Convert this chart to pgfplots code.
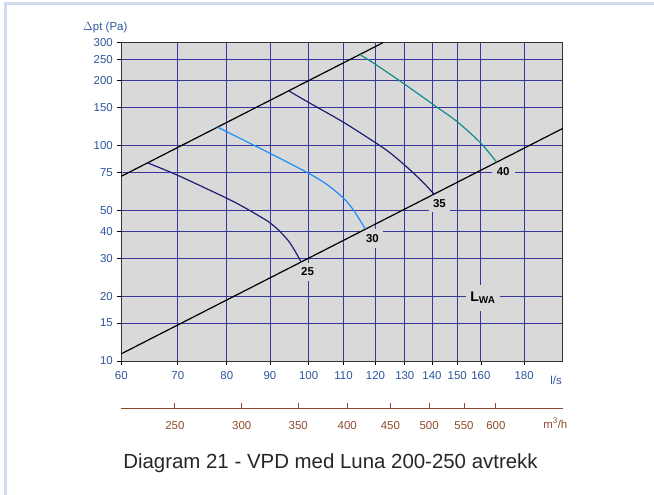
\documentclass[border=0pt]{standalone}
\usepackage{pgfplots}
\pgfplotsset{compat=1.18}
\usepackage{fontspec}
\setmainfont{Liberation Sans}
\definecolor{gridc}{RGB}{55,55,155}
\definecolor{tickc}{RGB}{45,85,155}
\definecolor{brn}{RGB}{140,75,45}
\definecolor{bgc}{RGB}{217,217,217}
\definecolor{c25}{RGB}{30,30,120}
\definecolor{c30}{RGB}{30,140,255}
\definecolor{c40}{RGB}{20,140,140}
\definecolor{framec}{RGB}{211,220,238}
\begin{document}
\begin{tikzpicture}
\path[use as bounding box] (-121.3bp,-134bp) rectangle (532.7bp,361bp);
\draw[framec, line width=2.6bp] (-116bp,-134bp) -- (-116bp,357.5bp) -- (532.7bp,357.5bp);
\begin{axis}[
  at={(0bp,0bp)}, anchor=south west,
  scale only axis, width=441.4bp, height=318.3bp,
  xmode=log, ymode=log,
  xmin=60, xmax=200, ymin=10, ymax=300,
  xtick={60,70,80,90,100,110,120,130,140,150,160,180},
  xticklabels={60,70,80,90,100,110,120,130,140,150,160,180},
  ytick={10,15,20,30,40,50,75,100,150,200,250,300},
  yticklabels={10,15,20,30,40,50,75,100,150,200,250,300},
  xminorticks=false, yminorticks=false,
  /pgf/number format/assume math mode=true,
  tick label style={font=\fontsize{11.5}{13}\selectfont, text=tickc},
  xticklabel style={yshift=-3bp},
  yticklabel style={xshift=-1bp},
  tick align=outside, tick pos=left, major tick length=4bp,
  every tick/.style={black, line width=0.8bp},
  grid=major,
  major grid style={gridc, line width=0.9bp},
  axis background/.style={fill=bgc},
  axis line style={black!80, line width=0.9bp},
  clip=true,
]
\node[fill=bgc, inner xsep=4bp, inner ysep=5bp, font=\bfseries\fontsize{11.5}{13}\selectfont] at (axis cs:99.7,26.0) {25};
\node[fill=bgc, inner xsep=4bp, inner ysep=5bp, font=\bfseries\fontsize{11.5}{13}\selectfont] at (axis cs:119,37.0) {30};
\node[fill=bgc, inner xsep=4bp, inner ysep=5bp, font=\bfseries\fontsize{11.5}{13}\selectfont] at (axis cs:142.9,54.0) {35};
\node[fill=bgc, inner xsep=5bp, inner ysep=5bp, font=\bfseries\fontsize{11.5}{13}\selectfont] at (axis cs:170,76.1) {40};
\node[fill=bgc, inner xsep=4bp, inner ysep=7bp, font=\bfseries\fontsize{14}{16}\selectfont] at (axis cs:160.9,19.6) {L\textsubscript{\fontsize{10}{12}\selectfont WA}};
% system lines
\addplot[black, line width=1.2bp] coordinates {(60,72) (122.47,300)};
\addplot[black, line width=1.2bp] coordinates {(60,10.8) (200,120)};
% fan curves
\addplot[c25, line width=1.2bp, smooth, tension=0.5] coordinates {(64.5,83) (70,72.7) (80,56.9) (84.3,51.1) (88,46.3) (90,43.8) (92.3,40.2) (95.1,35.2) (98,28.8)};
\addplot[c30, line width=1.2bp, smooth, tension=0.5] coordinates {(78,121.7) (90,92) (100,74.3) (105.2,65.8) (110,56.9) (113,50.2) (116.8,40.9)};
\addplot[c25, line width=1.2bp, smooth, tension=0.5] coordinates {(94.7,179.4) (100,158.5) (110,128.1) (120.3,102.4) (125,92.2) (130,81.0) (134.1,72.5) (137.5,65.8) (140.8,59.5)};
\addplot[c40, line width=1.2bp, smooth, tension=0.5] coordinates {(115,264.5) (120,238) (130,192.3) (140.7,154.2) (150,128.9) (160,102.4) (167,83.7)};
\end{axis}
\begin{axis}[
  at={(0bp,-47.3bp)}, anchor=south west,
  scale only axis, width=441.4bp, height=10bp,
  xmode=log, xmin=216, xmax=720, ymin=0, ymax=1,
  axis y line=none, axis x line=bottom,
  x axis line style={-, brn, line width=0.9bp},
  xtick={250,300,350,400,450,500,550,600},
  xticklabels={250,300,350,400,450,500,550,600},
  xminorticks=false,
  /pgf/number format/assume math mode=true,
  tick label style={font=\fontsize{11.5}{13}\selectfont, text=brn},
  xticklabel style={yshift=-10bp},
  tick align=inside, major tick length=5bp,
  every tick/.style={brn, line width=0.9bp},
]
\addplot[draw=none] coordinates {(300,0.5)};
\end{axis}
\node[text=tickc, font=\fontsize{11.5}{13}\selectfont] at (-16bp,333.7bp) {$\Delta$pt (Pa)};
\node[text=tickc, font=\fontsize{11.5}{13}\selectfont] at (434.7bp,-19bp) {l/s};
\node[text=brn, font=\fontsize{11.5}{13}\selectfont] at (434bp,-62.3bp) {m\textsuperscript{3}/h};
\node[text=black!85, font=\fontsize{20.5}{24}\selectfont] at (209.2bp,-102bp) {Diagram 21 - VPD med Luna 200-250 avtrekk};
\end{tikzpicture}
\end{document}
